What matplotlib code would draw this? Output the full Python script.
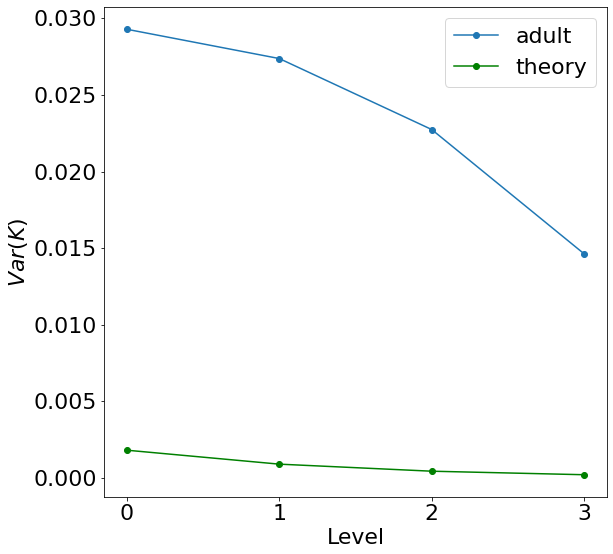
import matplotlib
matplotlib.use("Agg")
import matplotlib.pyplot as plt

levels = [0, 1, 2, 3]
adult = [0.02928, 0.02737, 0.02274, 0.01463]
theory = [0.00182, 0.00091, 0.00045, 0.00022]

fig = plt.figure(figsize=(613 / 72, 554 / 72), dpi=72)
ax = fig.add_axes([104 / 613, 1 - 497 / 554, (607 - 104) / 613, (497 - 7) / 554])

ax.plot(levels, adult, marker='o', color='tab:blue', label='adult')
ax.plot(levels, theory, marker='o', color='green', label='theory')

ax.set_xticks(levels)
ax.tick_params(labelsize=22)
ax.set_xlabel('Level', fontsize=22)
ax.set_ylabel('$Var(K)$', fontsize=22)
ax.legend(fontsize=22, loc='upper right')

fig.savefig('out.png', dpi=72)
